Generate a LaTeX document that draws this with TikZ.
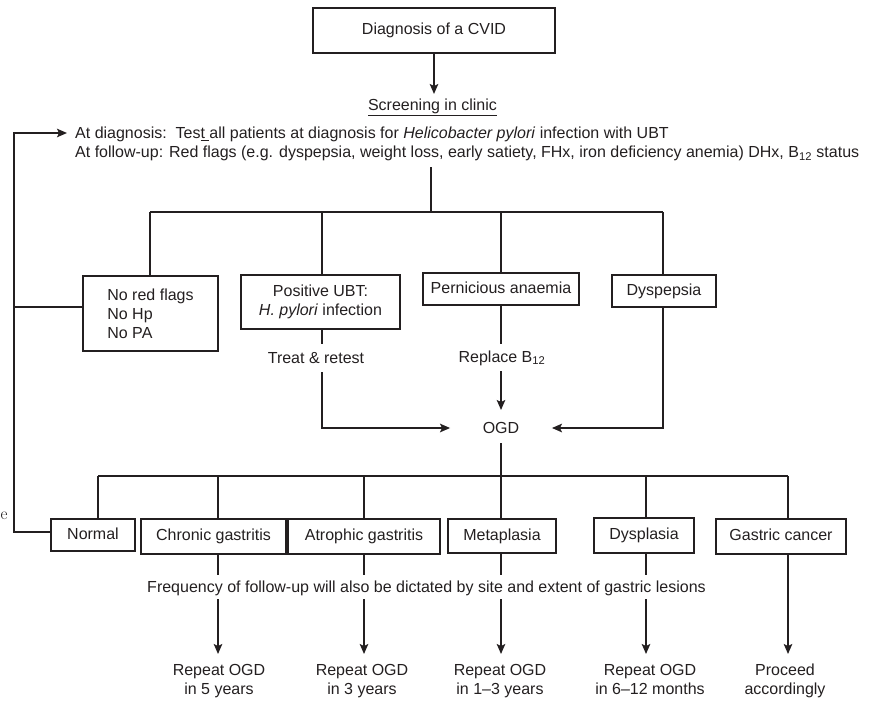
\documentclass[tikz,border=0pt]{standalone}
\usepackage{fontspec}
\setsansfont{Liberation Sans}
\usetikzlibrary{arrows.meta}
\definecolor{ink}{RGB}{35,31,32}
\begin{document}
\begin{tikzpicture}[x=1pt,y=-1pt,
  every node/.style={text=ink},
  fnt/.style={font=\sffamily\fontsize{16}{19}\selectfont},
  box/.style={fnt,draw=ink,line width=1.6pt,inner sep=0pt,align=center},
  one/.style={box,text height=11.6pt,text depth=3.4pt},
  txt/.style={fnt,inner sep=0pt,align=center},
  ln/.style={draw=ink,line width=1.8pt},
  arr/.style={ln,-{Stealth[length=10pt,width=8.5pt,inset=2pt]}}]
\useasboundingbox (0,0) rectangle (874,701);

% top
\node[one,line width=2.2pt,minimum width=242pt,minimum height=45pt] (diag) at (434,30.5) {Diagnosis of a CVID};
\node[txt] (scr) at (432.5,107) {\underline{Screening in clinic}};
\draw[arr,shorten >=13pt] (diag) -- (diag |- scr);
\node[fnt,inner sep=0pt,anchor=base west] (l1) at (75,138.5) {At diagnosis:\ \ Tes\underline{t\ }all patients at diagnosis for \textit{Helicobacter pylori} infection with UBT};
\node[fnt,inner sep=0pt,anchor=base west] (l2) at (75,157.5) {At follow-up: Red flags (e.g. dyspepsia, weight loss, early satiety, FHx, iron deficiency anemia) DHx, B\textsubscript{12} status};

% split 1
\coordinate (s1) at (431,167);
\coordinate (b1) at (431,212);
\draw[ln] (s1) -- (b1);
\draw[ln] (150,212) -- (663,212);

% row 2
\node[box,align=left,minimum width=135pt,minimum height=75pt] (nored) at (150.5,313.5) {No red flags\\No Hp\\No PA};
\node[box,minimum width=159pt,minimum height=54pt] (pos) at (320.5,302) {Positive UBT:\\\textit{H. pylori} infection};
\node[one,minimum width=156pt,minimum height=32pt] (pern) at (501,289) {Pernicious anaemia};
\node[one,minimum width=104pt,minimum height=32pt] (dysp) at (664,291) {Dyspepsia};

\draw[ln] (150,212) -- (nored.north -| 150,0);
\draw[ln] (322,212) -- (pos.north -| 322,0);
\draw[ln] (501,212) -- (pern.north);
\draw[ln] (663,212) -- (dysp.north -| 663,0);

\node[txt] (treat) at (316,358) {Treat \& retest};
\node[txt] (repl) at (502,358) {Replace B\textsubscript{12}};
\node[fnt,inner xsep=32.5pt,inner ysep=0pt,text height=11.6pt,text depth=0pt] (ogd) at (501,428) {OGD};
\path (ogd.center) ++(0,-18) coordinate (ogdn) (ogd.center) ++(0,15) coordinate (ogds);

\draw[ln] (pos.south -| 322,0) -- (322,344);
\draw[arr] (322,372) -- (322,428) -- (ogd.west);
\draw[ln] (pern.south) -- (501,344);
\draw[arr] (501,371) -- (ogdn);
\draw[arr] (dysp.south -| 663,0) -- (663,428) -- (ogd.east);

% left loop
\coordinate (lt) at (14,133);
\coordinate (lb) at (14,532);
\coordinate (ltip) at (67,133);
\coordinate (nredl) at (14,307);

% row 3
\node[one,minimum width=84pt,minimum height=32pt] (normal) at (93,535) {Normal};
\node[one,minimum width=145pt,minimum height=35pt] (chron) at (213.5,536.5) {Chronic gastritis};
\node[one,minimum width=152pt,minimum height=35pt] (atro) at (364,536.5) {Atrophic gastritis};
\node[one,minimum width=108pt,minimum height=34pt] (meta) at (502,536) {Metaplasia};
\node[one,minimum width=100pt,minimum height=35pt] (dysl) at (644,535.5) {Dysplasia};
\node[one,minimum width=130pt,minimum height=35pt] (gast) at (781,536.5) {Gastric cancer};

\draw[arr] (normal.west |- lb) -- (lb) -- (lt) -- (ltip);
\draw[ln] (nredl) -- (nored.west |- nredl);

\draw[ln] (ogds) -- (meta.north -| 501,0);
\draw[ln] (98,476) -- (788,476);
\draw[ln] (98,476) -- (normal.north -| 98,0);
\draw[ln] (218,476) -- (chron.north -| 218,0);
\draw[ln] (364,476) -- (atro.north);
\draw[ln] (646,476) -- (dysl.north -| 646,0);
\draw[ln] (788,476) -- (gast.north -| 788,0);

\node[txt] (freq) at (426.5,588) {Frequency of follow-up will also be dictated by site and extent of gastric lesions};

\node[txt] (r1) at (219,681.5) {Repeat OGD\strut\\in 5 years\strut};
\node[txt] (r2) at (362,681.5) {Repeat OGD\strut\\in 3 years\strut};
\node[txt] (r3) at (500,681.5) {Repeat OGD\strut\\in 1--3 years\strut};
\node[txt] (r4) at (650,681.5) {Repeat OGD\strut\\in 6--12 months\strut};
\node[txt] (r5) at (785,681.5) {Proceed\strut\\accordingly\strut};

\draw[ln] (chron.south -| 218,0) -- (218,575);
\draw[arr] (218,599) -- (218,654);
\draw[ln] (atro.south) -- (364,575);
\draw[arr] (364,599) -- (364,654);
\draw[ln] (meta.south -| 501,0) -- (501,575);
\draw[arr] (501,599) -- (501,654);
\draw[ln] (dysl.south -| 646,0) -- (646,575);
\draw[arr] (646,599) -- (646,654);
\draw[arr] (gast.south -| 788,0) -- (788,654);

\node[font=\rmfamily\fontsize{17}{19}\selectfont,inner sep=0pt] (e) at (4,516) {e};
\end{tikzpicture}
\end{document}
